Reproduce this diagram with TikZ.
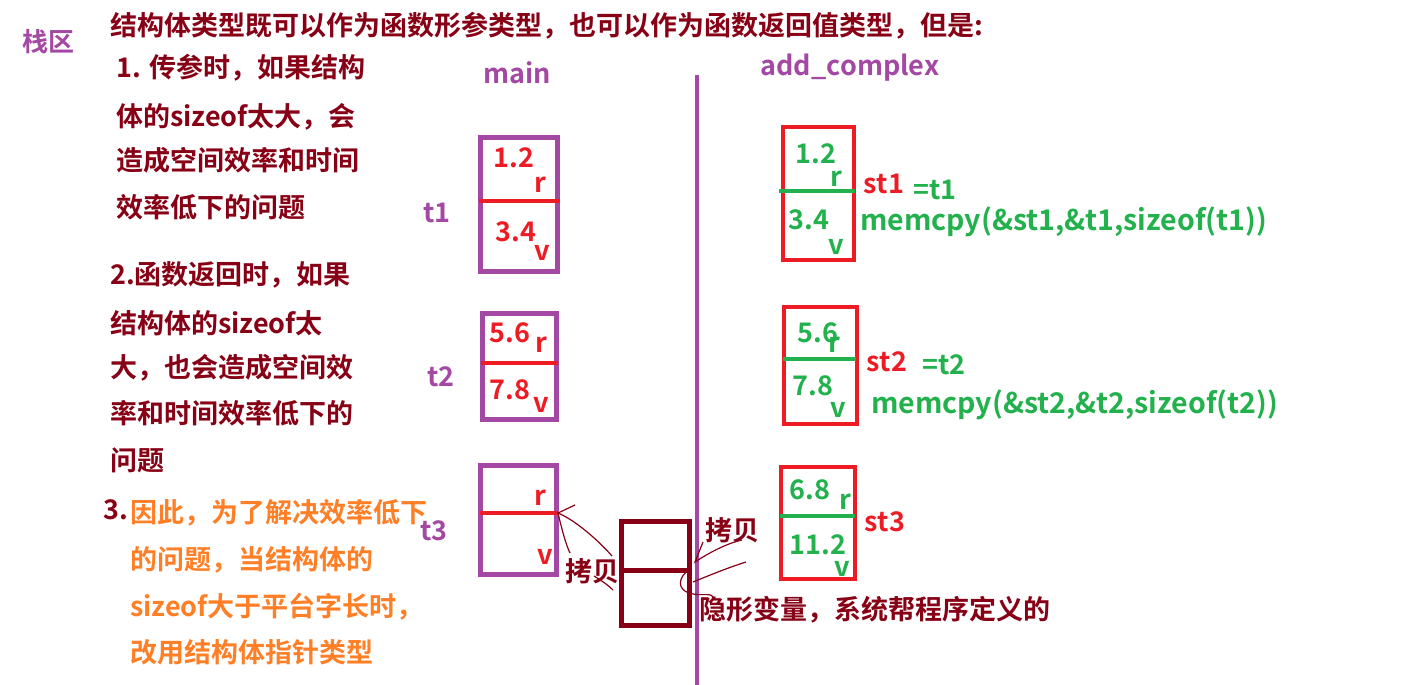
\documentclass[tikz,border=0pt]{standalone}
\usepackage{fontspec}
\setmainfont{Noto Sans CJK SC}[BoldFont={Noto Sans CJK SC Bold}]
\definecolor{pur}{HTML}{A349A4}
\definecolor{dred}{HTML}{880015}
\definecolor{rred}{HTML}{ED1C24}
\definecolor{grn}{HTML}{22B14C}
\definecolor{org}{HTML}{FF7F27}
\begin{document}
\begin{tikzpicture}[x=1pt,y=-1pt,
  txt/.style={font=\bfseries\fontsize{27}{30}\selectfont, inner sep=0pt},
  ln/.style={txt, anchor=west, text=dred},
  oln/.style={txt, anchor=west, text=org},
  rtx/.style={txt, text=rred},
  gtx/.style={txt, text=grn},
  ptx/.style={txt, text=pur},
  mcp/.style={gtx, anchor=west, font=\bfseries\fontsize{28.5}{30}\selectfont},
  pbox/.style={draw=pur, line width=5pt},
  rbox/.style={draw=rred, line width=4pt},
  dbox/.style={draw=dred, line width=5pt},
  rdiv/.style={draw=rred, line width=4pt},
  gdiv/.style={draw=grn, line width=4pt},
  scrib/.style={draw=dred, line width=1.2pt}]
\useasboundingbox[fill=white] (0,0) rectangle (1419,685);

% headings
\node[ptx, font=\bfseries\fontsize{26}{28}\selectfont] (zhan) at (48,42) {栈区};
\node[ln] (title) at (110,26) {结构体类型既可以作为函数形参类型，也可以作为函数返回值类型，但是:};
\node[ptx] (main) at (517,73) {main};
\node[ptx] (addc) at (850,68) {add\_complex};

% left explanation
\node[ln] (a1) at (116,68) {1. 传参时，如果结构};
\node[ln] (a2) at (116,117) {体的sizeof太大，会};
\node[ln] (a3) at (116,160) {造成空间效率和时间};
\node[ln] (a4) at (116,207) {效率低下的问题};
\node[ln] (b1) at (110,275) {2.函数返回时，如果};
\node[ln] (b2) at (110,323) {结构体的sizeof太};
\node[ln] (b3) at (110,368) {大，也会造成空间效};
\node[ln] (b4) at (110,413) {率和时间效率低下的};
\node[ln] (b5) at (110,460) {问题};
\node[txt, text=dred] (c0) at (116,510) {3.};
\node[oln] (c1) at (130,513) {因此，为了解决效率低下};
\node[oln] (c2) at (130,560) {的问题，当结构体的};
\node[oln] (c3) at (130,607) {sizeof大于平台字长时，};
\node[oln] (c4) at (130,652) {改用结构体指针类型};

% separator
\draw[draw=pur, line width=4pt] (697,75) coordinate (sepTop) -- (697,685) coordinate (sepBot);

% main side
\node[ptx] (lt1) at (437,213) {t1};
\node[ptx] (lt2) at (441,377) {t2};
\node[ptx] (lt3) at (434,531) {t3};

\draw[pbox] (480,137) rectangle (557,271);
\draw[rdiv] (479,201) -- (560,201);
\node[rtx] (t1r) at (514,158) {1.2};
\node[rtx] (t1rr) at (540,185) {r};
\node[rtx] (t1v) at (516,232) {3.4};
\node[rtx] (t1vv) at (542,253) {v};

\draw[pbox] (482,313) rectangle (556,419);
\draw[rdiv] (481,363) -- (558,363);
\node[rtx] (t2r) at (510,333) {5.6};
\node[rtx] (t2rr) at (541,345) {r};
\node[rtx] (t2v) at (510,390) {7.8};
\node[rtx] (t2vv) at (541,405) {v};

\draw[pbox] (480,465) rectangle (556,574);
\draw[rdiv] (480,513) -- (558,513) coordinate (t3end);
\node[rtx] (t3rr) at (540,498) {r};
\node[rtx] (t3vv) at (545,557) {v};

% hidden variable
\draw[dbox] (621,521) rectangle (689,625);
\draw[dbox] (621,570) -- (689,570);
\node[ln] (hid) at (699,610) {隐形变量，系统帮程序定义的};
\node[txt, text=dred] (cp1) at (592,571) {拷贝};
\node[txt, text=dred] (cp2) at (732,530) {拷贝};

% scribbles
\coordinate (s1) at (575,505);
\coordinate (s2) at (612,556);
\draw[scrib] (s1) -- (t3end) .. controls (575,520) and (598,540) .. (s2);
\draw[scrib] (t3end) .. controls (562,530) and (566,545) .. (570,553);
\draw[scrib] (594,576) .. controls (602,581) and (608,585) .. (613,590);
\draw[scrib] (703,542) -- (695,562) .. controls (710,552) and (728,543) .. (742,540);
\draw[scrib] (693,582) .. controls (710,575) and (730,567) .. (746,562);
\draw[scrib] (686,572) .. controls (676,582) and (680,592) .. (693,594) .. controls (705,596) and (713,592) .. (713,599);

% add_complex side
\draw[rbox] (783,127) rectangle (854,260);
\draw[gdiv] (779,191) -- (855,191);
\node[gtx] (s1r) at (816,154) {1.2};
\node[gtx] (s1rr) at (836,179) {r};
\node[gtx] (s1v) at (809,220) {3.4};
\node[gtx] (s1vv) at (836,247) {v};
\node[rtx] (st1) at (884,184) {st1};
\node[gtx, anchor=west] (eq1) at (913,190) {=t1};
\node[mcp] (mc1) at (860,222) {memcpy(\&st1,\&t1,sizeof(t1))};

\draw[rbox] (784,307) rectangle (857,424);
\draw[gdiv] (783,359) -- (856,359);
\node[gtx] (s2r) at (818,333) {5.6};
\node[gtx] (s2rr) at (834,345) {r};
\node[gtx] (s2v) at (813,386) {7.8};
\node[gtx] (s2vv) at (838,410) {v};
\node[rtx] (st2) at (887,362) {st2};
\node[gtx, anchor=west] (eq2) at (922,365) {=t2};
\node[mcp] (mc2) at (871,405) {memcpy(\&st2,\&t2,sizeof(t2))};

\draw[rbox] (781,467) rectangle (855,579);
\draw[gdiv] (780,516) -- (855,516);
\node[gtx] (s3r) at (810,490) {6.8};
\node[gtx] (s3rr) at (845,502) {r};
\node[gtx] (s3v) at (818,545) {11.2};
\node[gtx] (s3vv) at (842,569) {v};
\node[rtx] (st3) at (885,522) {st3};
\end{tikzpicture}
\end{document}
